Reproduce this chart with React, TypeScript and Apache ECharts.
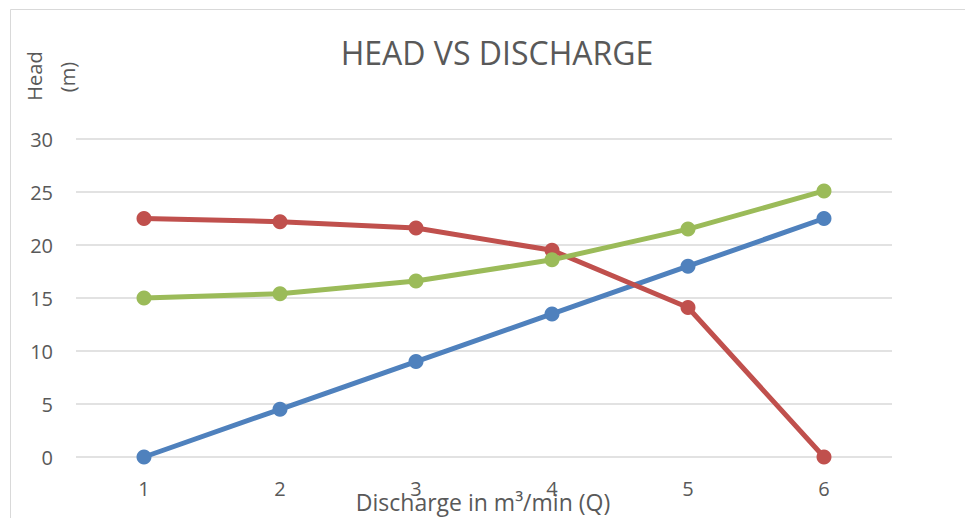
import React, { useEffect, useRef } from "react";
import * as echarts from "echarts";

const categories = ["1", "2", "3", "4", "5", "6"];
const blueSeries = [0, 4.5, 9, 13.5, 18, 22.5];
const redSeries = [22.5, 22.2, 21.6, 19.5, 14.1, 0];
const greenSeries = [15, 15.4, 16.6, 18.6, 21.5, 25.1];

const FONT = "'Open Sans', sans-serif";
const TXT = "#595959";

export default function App() {
  const ref = useRef<HTMLDivElement>(null);
  useEffect(() => {
    if (!ref.current) return;
    const chart = echarts.init(ref.current, undefined, { renderer: "svg" });
    const mk = (data: number[], color: string) => ({
      type: "line",
      data,
      symbol: "circle",
      symbolSize: 15,
      lineStyle: { color, width: 5 },
      itemStyle: { color },
      z: 3,
    });
    chart.setOption({
      animation: false,
      backgroundColor: "#ffffff",
      title: {
        text: "HEAD VS DISCHARGE",
        left: 492,
        top: 31,
        textAlign: "center",
        textStyle: { fontFamily: FONT, fontSize: 32, fontWeight: "normal", color: TXT },
      },
      graphic: [
        {
          type: "rect",
          shape: { x: 10.5, y: 9.5, width: 1000, height: 600 },
          style: { fill: "none", stroke: "#d9d9d9", lineWidth: 1 },
          z: -1,
        },
        {
          type: "text",
          x: 34,
          y: 76,
          rotation: Math.PI / 2,
          style: { text: "Head", fontFamily: FONT, fontSize: 20, fill: TXT, textAlign: "center", textVerticalAlign: "middle" },
        },
        {
          type: "text",
          x: 67,
          y: 77,
          rotation: Math.PI / 2,
          style: { text: "(m)", fontFamily: FONT, fontSize: 20, fill: TXT, textAlign: "center", textVerticalAlign: "middle" },
        },
        {
          type: "text",
          x: 483,
          y: 502,
          style: { text: "Discharge in m³/min (Q)", fontFamily: FONT, fontSize: 23, fill: TXT, textAlign: "center", textVerticalAlign: "middle" },
          z: 10,
        },
      ],
      grid: { left: 76, right: 73, top: 139, bottom: 61 },
      xAxis: {
        type: "category",
        data: categories,
        boundaryGap: true,
        axisLine: { show: false },
        axisTick: { show: false },
        axisLabel: { fontFamily: FONT, fontSize: 20, color: TXT, margin: 21 },
      },
      yAxis: {
        type: "value",
        min: 0,
        max: 30,
        interval: 5,
        axisLine: { show: false },
        axisTick: { show: false },
        axisLabel: { fontFamily: FONT, fontSize: 20, color: TXT, margin: 23 },
        splitLine: { lineStyle: { color: "#d9d9d9", width: 1.5 } },
      },
      series: [mk(blueSeries, "#4f81bd"), mk(redSeries, "#c0504d"), mk(greenSeries, "#9bbb59")],
    });
    return () => chart.dispose();
  }, []);
  return (
    <div
      ref={ref}
      style={{ position: "absolute", left: 0, top: 0, width: 965, height: 518, background: "#fff" }}
    />
  );
}
